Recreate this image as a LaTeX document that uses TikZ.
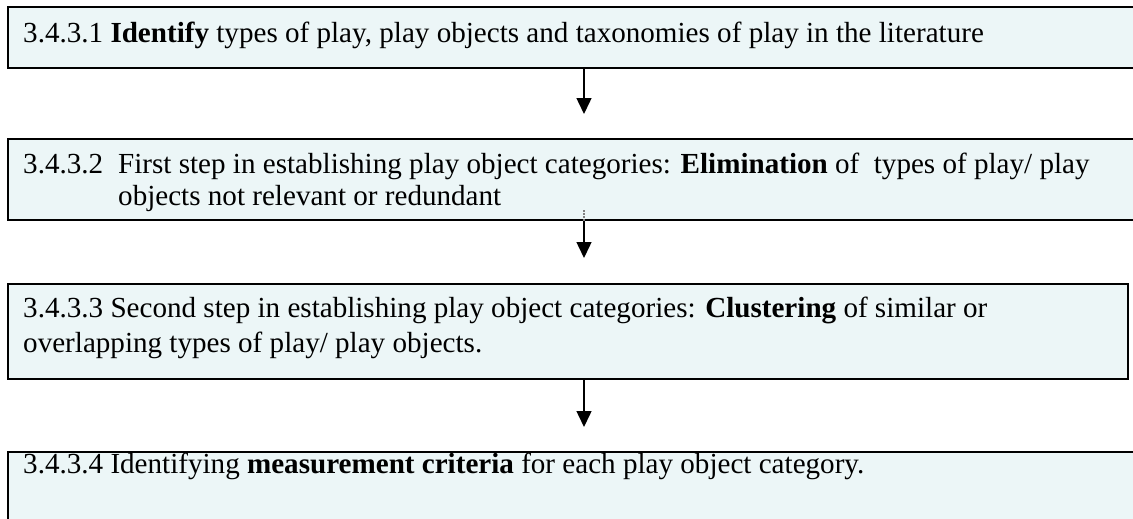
\documentclass[tikz,border=0pt]{standalone}
\usepackage{fontspec}
\setmainfont{Liberation Serif}
\usetikzlibrary{arrows.meta}
\definecolor{boxfill}{RGB}{236,246,247}
\tikzset{
  stepbox/.style={draw=black, line width=2pt, fill=boxfill, rectangle, anchor=north west, inner sep=0pt},
  txt/.style={anchor=base west, inner sep=0pt, font=\fontsize{29.1}{33}\selectfont},
  flow/.style={line width=1.5pt, -{Triangle[width=15pt,length=16pt]}}
}
\begin{document}
\begin{tikzpicture}[x=1pt,y=-1pt]
\useasboundingbox (0,0) rectangle (1133,519);
\clip (0,0) rectangle (1133,519);
\node[stepbox, minimum width=1140pt, minimum height=61pt] (b1) at (7,6) {};
\node[stepbox, minimum width=1140pt, minimum height=81pt] (b2) at (7,138) {};
\node[stepbox, minimum width=1120pt, minimum height=95pt] (b3) at (7,283) {};
\node[stepbox, minimum width=1140pt, minimum height=90pt] (b4) at (7,451) {};

\node[txt] (t1) at (23,43) {3.4.3.1 \textbf{Identify} types of play, play objects and taxonomies of play in the literature};
\node[txt] (t2a) at (23,173) {\makebox[95pt][l]{3.4.3.2}First step in establishing play object categories: \textbf{Elimination} of~ types of play/ play};
\node[txt] (t2b) at (118,205) {objects not relevant or redundant};
\node[txt] (t3a) at (23,317) {3.4.3.3 Second step in establishing play object categories: \textbf{Clustering} of similar or};
\node[txt] (t3b) at (23,352) {overlapping types of play/ play objects.};
\node[txt] (t4) at (23,473) {3.4.3.4 Identifying \textbf{measurement criteria} for each play object category.};

\coordinate (e1) at (584,114);
\coordinate (s2) at (584,210);
\coordinate (e2) at (584,258);
\coordinate (e3) at (584,427);
\draw[flow] (b1.south -| e1) -- (e1);
\draw[line width=1.2pt, gray, dash pattern=on 2pt off 1pt] (s2) -- (b2.south -| s2);
\draw[flow] (b2.south -| e2) -- (e2);
\draw[flow] (b3.south -| e3) -- (e3);
\end{tikzpicture}
\end{document}
